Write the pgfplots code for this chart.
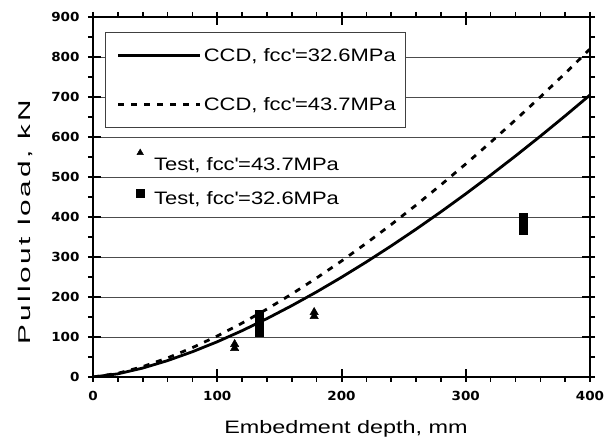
\documentclass[border=0pt]{standalone}
\usepackage{fontspec}
\setmainfont{Liberation Sans}
\newfontfamily\legfont[FakeStretch=1.22]{Liberation Sans}
\newfontfamily\xlabfont[FakeStretch=1.3]{Liberation Sans}
\newfontfamily\ylabfont[FakeStretch=1.75,LetterSpace=16]{Liberation Sans}
\newfontfamily\tickfont[FakeStretch=1.08]{DejaVu Sans}
\usepackage{pgfplots}
\pgfplotsset{compat=1.18}
\newcommand{\q}{\textquotesingle}
\pgfplotsset{
  linelegend/.style={legend image code/.code={\path[draw=none] (0pt,0pt); \draw[##1] (5pt,0pt) -- (87pt,0pt);}},
  trilegend/.style={legend image code/.code={\path[draw=none,fill=none] (0pt,0pt) rectangle (16pt,0.1pt); \draw[##1,mark size=3.8pt] plot coordinates {(4pt,12pt)};}},
  sqlegend/.style={legend image code/.code={\path[draw=none,fill=none] (0pt,0pt) rectangle (16pt,0.1pt); \draw[##1] plot coordinates {(4pt,5pt)};}},
}
\begin{document}
\begin{tikzpicture}
\begin{axis}[
  width=497pt, height=360pt, scale only axis,
  xmin=0, xmax=400, ymin=0, ymax=900,
  xtick={0,100,...,400}, ytick={0,100,...,900},
  minor x tick num=4, minor y tick num=1,
  tick align=outside, major tick length=5pt, minor tick length=5pt,
  extra x ticks={100,200,300}, extra x tick labels={,,},
  extra y ticks={100,200,...,800}, extra y tick labels={,,,,,,,},
  extra tick style={tick align=inside, major tick length=8pt, grid=none},
  ymajorgrids=true,
  major grid style={line width=0.8pt, black!70},
  axis line style={line width=2.5pt},
  major tick style={line width=2pt, black},
  minor tick style={line width=1.6pt, black},
  /pgf/number format/assume math mode=true,
  tick label style={font=\tickfont\bfseries\fontsize{12.5}{12.5}\selectfont},
  xticklabel style={yshift=-6pt},
  yticklabel style={xshift=-5pt},
  xlabel={\xlabfont\fontsize{18}{18}\selectfont Embedment depth, mm},
  ylabel={\ylabfont\fontsize{17}{17}\selectfont Pullout load, kN},
  xlabel style={at={(axis description cs:0.509,-0.156)}, anchor=base},
  ylabel style={at={(axis description cs:-0.125,0.43)}, anchor=base},
  legend style={at={(axis description cs:0.024,0.958)}, anchor=north west,
    draw=black!75, line width=1pt, fill=white,
    font=\legfont\fontsize{18}{18}\selectfont,
    inner xsep=8pt, inner ysep=14pt, row sep=30pt,
    nodes={inner sep=2pt}},
  legend cell align=left,
  linelegend,
]
\addplot[black, line width=2.8pt] coordinates {
(0,0) (20,7.9) (40,22.3) (60,41.0) (80,63.1) (100,88.1) (120,115.8) (140,146.0)
(160,178.4) (180,212.8) (200,249.3) (220,287.6) (240,327.7) (260,369.5) (280,412.9)
(300,457.9) (320,504.5) (340,552.5) (360,601.9) (380,652.8) (400,705)};
\addlegendentry{CCD, fcc\q=32.6MPa}
\addplot[black, line width=2.8pt, dash pattern=on 6pt off 7pt] coordinates {
(0,0) (20,9.2) (40,25.9) (60,47.6) (80,73.3) (100,102.5) (120,134.7) (140,169.8)
(160,207.5) (180,247.6) (200,289.9) (220,334.5) (240,381.1) (260,429.7) (280,480.3)
(300,532.6) (320,586.7) (340,642.6) (360,700.1) (380,759.2) (400,820)};
\addlegendentry{CCD, fcc\q=43.7MPa}
\end{axis}
\begin{axis}[
  width=497pt, height=360pt, scale only axis, hide axis,
  xmin=0, xmax=400, ymin=0, ymax=900,
  legend style={at={(axis description cs:0.0865,0.634)}, anchor=north west,
    draw=none, fill=none,
    font=\legfont\fontsize{18}{18}\selectfont,
    inner sep=0pt, row sep=15pt, nodes={inner sep=2pt}},
  legend cell align=left,
]
\addplot[only marks, mark=triangle*, mark size=4.8pt, black, trilegend] coordinates {
(114,72) (114,82) (178,152) (178,162)};
\addlegendentry{Test, fcc\q=43.7MPa}
\addplot[only marks, mark=square*, mark size=4pt, black, sqlegend] coordinates {
(134,113) (134,135) (134,157) (346,367) (346,383) (346,400)};
\addlegendentry{Test, fcc\q=32.6MPa}
\end{axis}
\path ([shift={(-93pt,-60pt)}]current axis.south west) rectangle ([shift={(22pt,17pt)}]current axis.north east);
\end{tikzpicture}
\end{document}
